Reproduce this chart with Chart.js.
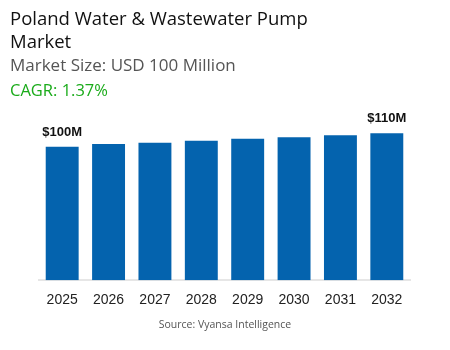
<!DOCTYPE html>
<html lang="en">
<head>
  <meta charset="UTF-8" />
  <title>Poland Water & Wastewater Pump Market</title>
  <script src="https://cdn.jsdelivr.net/npm/chart.js"></script>
  <style>
    body { margin: 0; width: 450px; height: 350px; background: #fff; font-family: "Open Sans", sans-serif; position: relative; overflow: hidden; }
    #titulo { position: absolute; left: 10px; top: 6px; font-size: 18.5px; line-height: 23px; color: #111; width: 330px; }
    #tamanho { position: absolute; left: 10px; top: 53px; font-size: 17px; color: #555; }
    #cagr { position: absolute; left: 10px; top: 78px; font-size: 16.5px; color: #1aab1a; }
    #fonte { position: absolute; left: 0; width: 450px; top: 317px; text-align: center; font-size: 10.5px; color: #555; }
    #wrap { position: absolute; left: 0; top: 0; width: 450px; height: 350px; }
  </style>
</head>
<body>

<div id="wrap"><canvas id="grafico"></canvas></div>
<div id="titulo">Poland Water &amp; Wastewater Pump Market</div>
<div id="tamanho">Market Size: USD 100 Million</div>
<div id="cagr">CAGR: 1.37%</div>
<div id="fonte">Source: Vyansa Intelligence</div>

<script>
  const anos = ['2025', '2026', '2027', '2028', '2029', '2030', '2031', '2032'];
  const valores = [100, 102, 103, 104.5, 106, 107, 108.5, 110];
  const rotulos = ['$100M', '', '', '', '', '', '', '$110M'];

  // rótulos em cima das barras
  const pluginRotulos = {
    id: 'rotulos',
    afterDatasetsDraw(chart) {
      const ctx = chart.ctx;
      const meta = chart.getDatasetMeta(0);
      ctx.save();
      ctx.font = 'bold 13px "Liberation Sans", Arial, sans-serif';
      ctx.fillStyle = '#111';
      ctx.textAlign = 'center';
      ctx.textBaseline = 'bottom';
      meta.data.forEach((bar, i) => {
        if (!rotulos[i]) return;
        ctx.fillText(rotulos[i], bar.x, bar.y - 8);
      });
      ctx.restore();
    }
  };

  new Chart(document.getElementById('grafico').getContext('2d'), {
    type: 'bar',
    data: {
      labels: anos,
      datasets: [{ data: valores, backgroundColor: '#0463ae', barPercentage: 0.71, categoryPercentage: 1 }]
    },
    options: {
      responsive: true,
      maintainAspectRatio: false,
      animation: false,
      layout: { padding: { left: 39, right: 40, top: 120, bottom: 29 } },
      plugins: { legend: { display: false }, tooltip: { enabled: false } },
      scales: {
        x: {
          grid: { display: false, drawTicks: false },
          border: { color: '#e6e6e6', width: 2 },
          ticks: { color: '#222', font: { size: 14, family: '"Liberation Sans", Arial, sans-serif' }, padding: 12 }
        },
        y: { display: false, min: 0, max: 120 }
      }
    },
    plugins: [pluginRotulos]
  });
</script>

</body>
</html>
